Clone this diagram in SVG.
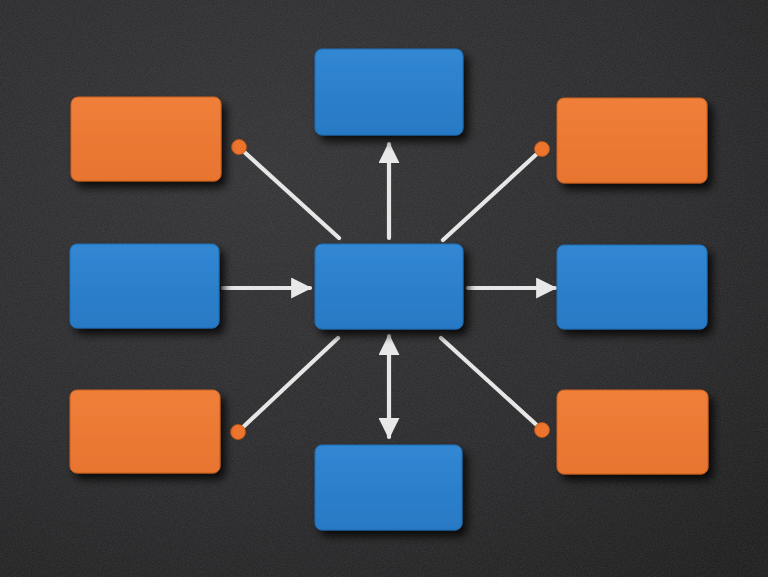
<svg xmlns="http://www.w3.org/2000/svg" width="768" height="577" viewBox="0 0 768 577">
  <defs>
    <radialGradient id="bg" cx="0.35" cy="0.3" r="0.9">
      <stop offset="0" stop-color="#303032"/>
      <stop offset="0.6" stop-color="#262628"/>
      <stop offset="1" stop-color="#1a1a1b"/>
    </radialGradient>
    <filter id="grain" x="0" y="0" width="100%" height="100%">
      <feTurbulence type="fractalNoise" baseFrequency="0.8" numOctaves="3" seed="3" result="n"/>
      <feColorMatrix in="n" type="matrix" values="0 0 0 0 1  0 0 0 0 1  0 0 0 0 1  0 0 0 0.11 0"/>
    </filter>
    <filter id="shadow" x="-20%" y="-20%" width="150%" height="160%">
      <feGaussianBlur in="SourceAlpha" stdDeviation="4"/>
      <feOffset dx="5" dy="6" result="b"/>
      <feComponentTransfer><feFuncA type="linear" slope="0.8"/></feComponentTransfer>
      <feMerge><feMergeNode/><feMergeNode in="SourceGraphic"/></feMerge>
    </filter>
    <linearGradient id="gBlue" x1="0" y1="0" x2="0" y2="1">
      <stop offset="0" stop-color="#3187d3"/>
      <stop offset="1" stop-color="#2879c4"/>
    </linearGradient>
    <linearGradient id="gOrange" x1="0" y1="0" x2="0" y2="1">
      <stop offset="0" stop-color="#ef7f3a"/>
      <stop offset="1" stop-color="#e8742f"/>
    </linearGradient>
    <marker id="arrow" viewBox="0 0 10 10" refX="9" refY="5" markerWidth="5" markerHeight="5" orient="auto-start-reverse" markerUnits="strokeWidth">
      <path d="M0,0 L10,5 L0,10 z" fill="#e8e8e8"/>
    </marker>
    <style>
      .blue { fill: url(#gBlue); stroke: #1f6db3; stroke-width: 1; filter: url(#shadow); }
      .orange { fill: url(#gOrange); stroke: #c9611f; stroke-width: 1; filter: url(#shadow); }
      .conn { stroke: #e6e6e6; stroke-width: 4.2; stroke-linecap: round; fill: none; }
      .dot { fill: #ec742c; stroke: #b85518; stroke-width: 0.8; }
    </style>
  </defs>

  <rect width="768" height="577" fill="url(#bg)"/>
  <rect width="768" height="577" filter="url(#grain)"/>

  <g id="connectors">
    <line class="conn" x1="389" y1="238" x2="389" y2="144" marker-end="url(#arrow)"/>
    <line class="conn" x1="223" y1="288" x2="310" y2="288" marker-end="url(#arrow)"/>
    <line class="conn" x1="468" y1="288" x2="555" y2="288" marker-end="url(#arrow)"/>
    <line class="conn" x1="389" y1="336" x2="389" y2="437" marker-start="url(#arrow)" marker-end="url(#arrow)"/>
    <line class="conn" x1="339" y1="238" x2="241" y2="149"/>
    <line class="conn" x1="443" y1="240" x2="540" y2="151"/>
    <line class="conn" x1="338" y1="338" x2="240" y2="430"/>
    <line class="conn" x1="441" y1="338" x2="540" y2="428"/>
    <circle class="dot" cx="239" cy="147" r="7.5"/>
    <circle class="dot" cx="542" cy="149" r="7.5"/>
    <circle class="dot" cx="238" cy="432" r="7.5"/>
    <circle class="dot" cx="542" cy="430" r="7.5"/>
  </g>

  <g id="node-center"><rect class="blue" x="315" y="244" width="148" height="85" rx="7"/></g>
  <g id="node-top"><rect class="blue" x="315" y="49" width="148" height="86" rx="7"/></g>
  <g id="node-bottom"><rect class="blue" x="315" y="445" width="147" height="85" rx="7"/></g>
  <g id="node-left"><rect class="blue" x="70" y="244" width="149" height="84" rx="7"/></g>
  <g id="node-right"><rect class="blue" x="557" y="245" width="150" height="84" rx="7"/></g>
  <g id="node-top-left"><rect class="orange" x="71" y="97" width="150" height="84" rx="7"/></g>
  <g id="node-top-right"><rect class="orange" x="557" y="98" width="150" height="85" rx="7"/></g>
  <g id="node-bottom-left"><rect class="orange" x="70" y="390" width="150" height="83" rx="7"/></g>
  <g id="node-bottom-right"><rect class="orange" x="557" y="390" width="151" height="84" rx="7"/></g>
</svg>
